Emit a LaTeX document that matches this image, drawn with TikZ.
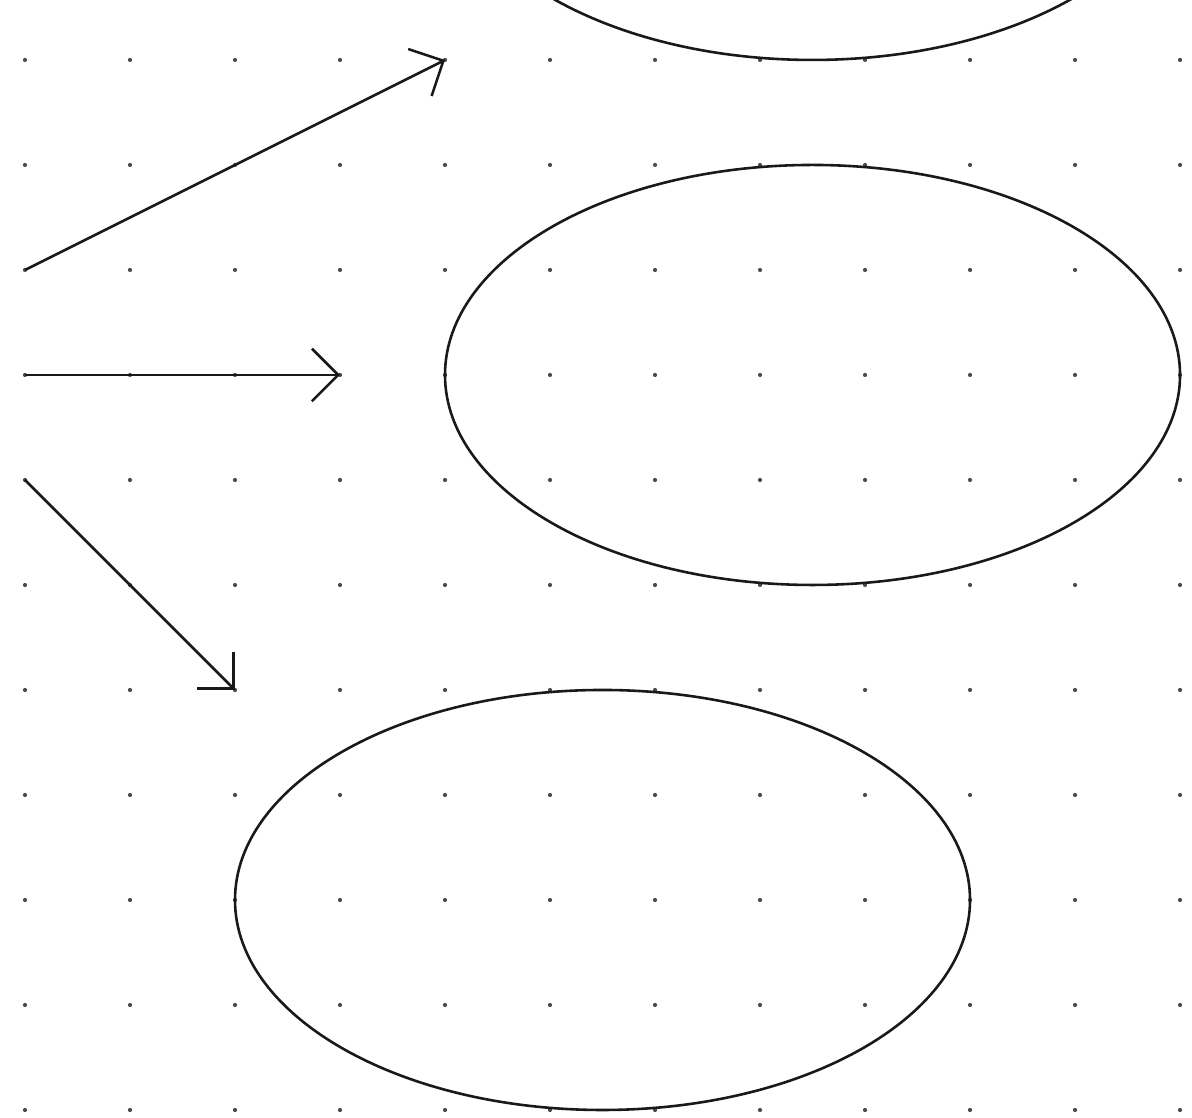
\documentclass[tikz,border=0pt]{standalone}
\usetikzlibrary{arrows.meta}
\tikzset{
  griddot/.style={fill=black!70, draw=none},
  shape line/.style={draw=black!90, line width=0.7pt},
  arrowline/.style={draw=black!90, line width=0.7pt, -{Straight Barb[length=0.25cm,width=0.5cm,line width=0.7pt]}}
}
\begin{document}
\begin{tikzpicture}[x=1cm,y=1cm]
\useasboundingbox (-0.238,-0.067) rectangle (11.114,10.571);
\fill[white] (-0.238,-0.067) rectangle (11.114,10.571);
\foreach \i in {0,...,11}{
  \foreach \j in {0,...,10}{
    \fill[griddot] (\i,\j) circle (0.02);
  }
}
\draw[shape line] (7.5,12) ellipse (3.5 and 2);
\draw[shape line] (7.5,7) ellipse (3.5 and 2);
\draw[shape line] (5.5,2) ellipse (3.5 and 2);
\coordinate (a1s) at (0,8);
\coordinate (a1e) at (4,10);
\coordinate (a2s) at (0,7);
\coordinate (a2e) at (3,7);
\coordinate (a3s) at (0,6);
\coordinate (a3e) at (2,4);
\draw[arrowline] (a1s) -- (a1e);
\draw[arrowline] (a2s) -- (a2e);
\draw[arrowline] (a3s) -- (a3e);
\end{tikzpicture}
\end{document}
